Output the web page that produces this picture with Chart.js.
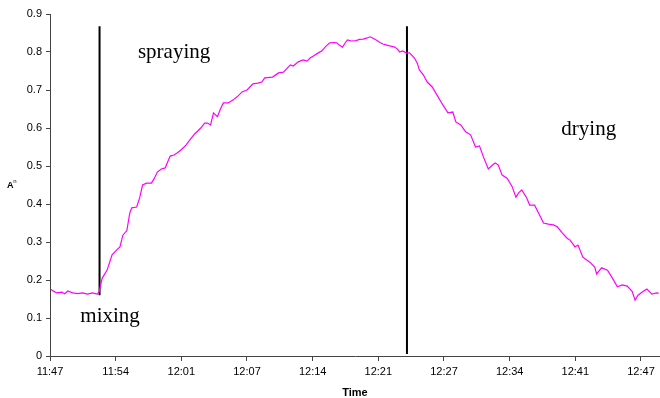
<!DOCTYPE html>
<html>
<head>
<meta charset="utf-8">
<script src="https://cdn.jsdelivr.net/npm/chart.js@4/dist/chart.umd.min.js"></script>
<style>
    body { margin: 0; background: #fff; }
    #wrap { width: 660px; height: 398px; }
</style>
</head>
<body>
<div id="wrap"><canvas id="absChart" width="660" height="398"></canvas></div>
<script>
// minutes after 11:47
var times = [0.1, 0.4, 0.7, 1.2, 1.5, 1.8, 2.3, 2.8, 3.3, 3.8, 4.3, 4.8, 5.0, 5.3, 5.8, 6.3, 6.8, 7.1, 7.4, 7.8,
    8.1, 8.3, 8.8, 9.1, 9.4, 9.8, 10.3, 10.6, 10.9, 11.3, 11.7, 11.9, 12.2, 12.6, 12.9, 13.3, 13.8, 14.3, 14.7, 15.0,
    15.3, 15.7, 16.0, 16.3, 16.6, 17.0, 17.3, 17.6, 18.1, 18.6, 19.0, 19.5, 20.0, 20.6, 21.1, 21.5, 21.8, 22.6, 23.2, 23.7,
    24.4, 24.7, 25.2, 25.7, 26.1, 26.4, 26.7, 27.2, 27.6, 28.0, 28.4, 28.8, 29.1, 29.4, 29.7, 30.0, 30.2, 30.6, 31.1, 31.4,
    31.8, 32.2, 32.5, 32.8, 33.2, 33.5, 33.8, 34.2, 34.5, 35.0, 35.3, 35.5, 35.8, 36.2, 36.5, 36.8, 37.0, 37.3, 37.5, 37.9,
    38.3, 38.8, 39.4, 39.9, 40.4, 40.9, 41.2, 41.7, 42.2, 42.7, 43.2, 43.6, 44.0, 44.5, 44.9, 45.2, 45.5, 45.9, 46.4, 46.9,
    47.3, 47.6, 47.9, 48.4, 48.7, 49.2, 49.8, 50.1, 50.6, 51.1, 51.5, 52.0, 52.5, 52.8, 53.3, 53.6, 54.1, 54.8, 55.3, 55.5,
    56.0, 56.6, 57.1, 57.6, 58.1, 58.6, 59.1, 59.4, 59.7, 60.2, 60.6, 61.1, 61.6, 61.8];
var absorbance = [0.175, 0.170, 0.166, 0.168, 0.164, 0.171, 0.166, 0.164, 0.166, 0.163, 0.166, 0.163, 0.170, 0.205, 0.226, 0.266, 0.280, 0.287, 0.318, 0.330,
    0.376, 0.390, 0.392, 0.416, 0.450, 0.455, 0.455, 0.468, 0.484, 0.492, 0.495, 0.508, 0.526, 0.529, 0.534, 0.542, 0.555, 0.572, 0.585, 0.592,
    0.600, 0.613, 0.613, 0.608, 0.640, 0.630, 0.650, 0.666, 0.666, 0.674, 0.682, 0.695, 0.700, 0.716, 0.718, 0.721, 0.732, 0.734, 0.745, 0.747,
    0.766, 0.763, 0.774, 0.779, 0.776, 0.784, 0.789, 0.797, 0.803, 0.815, 0.824, 0.825, 0.824, 0.818, 0.813, 0.825, 0.832, 0.829, 0.830, 0.833,
    0.834, 0.837, 0.840, 0.836, 0.830, 0.825, 0.821, 0.818, 0.816, 0.813, 0.807, 0.800, 0.803, 0.797, 0.798, 0.790, 0.784, 0.770, 0.753, 0.740,
    0.721, 0.708, 0.682, 0.660, 0.640, 0.642, 0.616, 0.608, 0.590, 0.582, 0.550, 0.553, 0.524, 0.492, 0.502, 0.508, 0.503, 0.476, 0.468, 0.447,
    0.418, 0.430, 0.437, 0.416, 0.397, 0.397, 0.366, 0.350, 0.347, 0.345, 0.340, 0.324, 0.310, 0.305, 0.287, 0.292, 0.260, 0.247, 0.234, 0.216,
    0.232, 0.226, 0.205, 0.182, 0.187, 0.184, 0.170, 0.147, 0.160, 0.170, 0.176, 0.163, 0.166, 0.165];

var tickMinutes = [0, 6.67, 13.33, 20, 26.67, 33.33, 40, 46.67, 53.33, 60];
var tickLabels = ['11:47', '11:54', '12:01', '12:07', '12:14', '12:21', '12:27', '12:34', '12:41', '12:47'];

// phase boundaries (vertical black lines)
var markerTimes = [5.03, 36.24];
var markerLow = [0.16, 0.005];
var markerHigh = [0.868, 0.868];

var phaseLabels = ['mixing', 'spraying', 'drying'];

Chart.defaults.font.family = '"Liberation Sans", Arial, sans-serif';
Chart.defaults.font.size = 11;
Chart.defaults.color = '#000';

var points = times.map(function (t, i) {
    return { x: t, y: absorbance[i] };
});

var datasets = [{
    data: points,
    borderColor: '#ff00ff',
    borderWidth: 1.2,
    pointRadius: 0,
    tension: 0
}];

markerTimes.forEach(function (t, i) {
    datasets.push({
        data: [{ x: t, y: markerLow[i] }, { x: t, y: markerHigh[i] }],
        borderColor: '#000',
        borderWidth: 2,
        pointRadius: 0
    });
});

// where each phase name sits, in data units
var phaseSpots = [
    { x: 6.1, y: 0.103 },
    { x: 12.6, y: 0.80 },
    { x: 54.7, y: 0.595 }
];

var textPlugin = {
    id: 'chartTexts',
    afterDraw: function (chart) {
        var ctx = chart.ctx;
        var xs = chart.scales.x, ys = chart.scales.y;
        ctx.save();
        ctx.fillStyle = '#000';
        ctx.font = '21px "Liberation Serif", "Times New Roman", serif';
        ctx.textAlign = 'center';
        ctx.textBaseline = 'middle';
        phaseLabels.forEach(function (txt, i) {
            ctx.fillText(txt, xs.getPixelForValue(phaseSpots[i].x), ys.getPixelForValue(phaseSpots[i].y));
        });
        // y title: A with superscript n
        ctx.textAlign = 'left';
        ctx.textBaseline = 'alphabetic';
        ctx.font = 'bold 9px "Liberation Sans", Arial, sans-serif';
        ctx.fillText('A', 7, 188);
        ctx.font = '6px "Liberation Sans", Arial, sans-serif';
        ctx.fillText('n', 13.3, 183);
        ctx.restore();
    }
};

new Chart(document.getElementById('absChart'), {
    type: 'line',
    data: { datasets: datasets },
    plugins: [textPlugin],
    options: {
        responsive: false,
        animation: false,
        layout: { padding: { top: 14, right: 0, left: 0, bottom: 0 } },
        plugins: {
            legend: { display: false },
            tooltip: { enabled: false }
        },
        scales: {
            x: {
                type: 'linear',
                min: 0,
                max: 61.93,
                afterBuildTicks: function (scale) {
                    scale.ticks = tickMinutes.map(function (v) { return { value: v }; });
                },
                afterFit: function (scale) { scale.height = 42; },
                ticks: {
                    autoSkip: false,
                    maxRotation: 0,
                    padding: 4,
                    callback: function (v, i) { return tickLabels[i]; }
                },
                grid: { drawOnChartArea: false, drawTicks: true, tickLength: 5, color: '#444' },
                border: { display: true, color: '#444', width: 1 },
                title: {
                    display: true,
                    text: 'Time',
                    font: { weight: 'bold', size: 11 },
                    padding: { top: 0, bottom: -2 }
                }
            },
            y: {
                min: 0,
                max: 0.9,
                afterFit: function (scale) { scale.width = 50; },
                ticks: { stepSize: 0.1, padding: 4 },
                grid: { drawOnChartArea: false, drawTicks: true, tickLength: 4, color: '#444' },
                border: { display: true, color: '#444', width: 1 }
            }
        }
    }
});
</script>
</body>
</html>
